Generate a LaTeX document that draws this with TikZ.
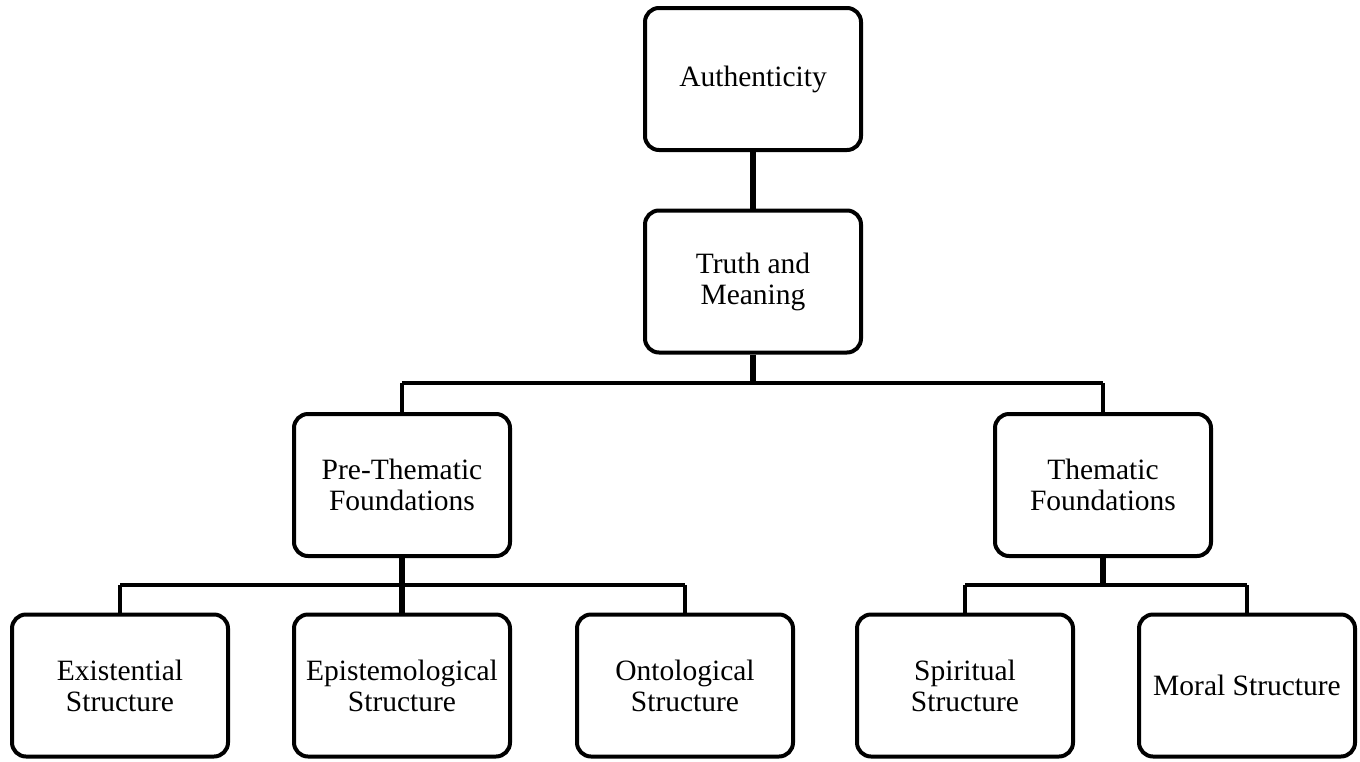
\documentclass[tikz,border=0pt]{standalone}
\usepackage{fontspec}
\setmainfont{Liberation Serif}
\begin{document}
\begin{tikzpicture}[x=1pt,y=-1pt,
  box/.style={draw=black, line width=4pt, rounded corners=14pt, fill=white,
    minimum width=216pt, minimum height=142pt, inner sep=2pt, align=center,
    font=\fontsize{29.5}{31}\selectfont},
  trunk/.style={line width=6pt},
  branch/.style={line width=4pt, line join=miter},
  bus/.style={line width=3.5pt}]
\useasboundingbox (0,0) rectangle (1360,761);

% hierarchy boxes
\node[box] (auth)   at (753,79)    {Authenticity};
\node[box] (truth)  at (753,281.5) {Truth and\\Meaning};
\node[box] (pre)    at (402,485)   {Pre-Thematic\\Foundations};
\node[box] (them)   at (1103,485)  {Thematic\\Foundations};
\node[box] (exist)  at (120,685.5) {Existential\\Structure};
\node[box] (epist)  at (402,685.5) {Epistemological\\Structure};
\node[box] (onto)   at (685,685.5) {Ontological\\Structure};
\node[box] (spirit) at (965,685.5) {Spiritual\\Structure};
\node[box] (moral)  at (1247,685.5){Moral Structure};

% junction points on the horizontal buses
\coordinate (busA) at (753,383);
\coordinate (busB) at (402,585);
\coordinate (busC) at (1103,585);

% connectors
\draw[trunk] (auth.south) -- (truth.north);
\draw[trunk] (truth.south) -- (busA);
\draw[bus] (pre.north |- busA) -- (them.north |- busA);
\draw[branch] (busA -| pre.north) -- (pre.north);
\draw[branch] (busA -| them.north) -- (them.north);

\draw[trunk] (pre.south) -- (busB);
\draw[bus] (exist.north |- busB) -- (onto.north |- busB);
\draw[branch] (busB -| exist.north) -- (exist.north);
\draw[trunk] (busB) -- (epist.north);
\draw[branch] (busB -| onto.north) -- (onto.north);

\draw[trunk] (them.south) -- (busC);
\draw[bus] (spirit.north |- busC) -- (moral.north |- busC);
\draw[branch] (busC -| spirit.north) -- (spirit.north);
\draw[branch] (busC -| moral.north) -- (moral.north);
\end{tikzpicture}
\end{document}
